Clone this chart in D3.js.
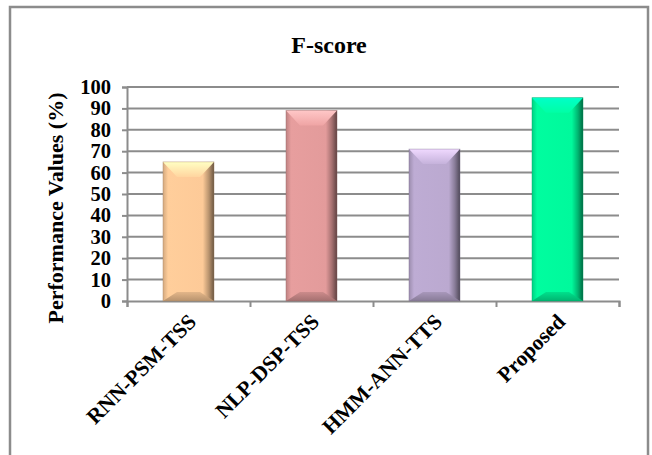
<!DOCTYPE html>
<html>
<head>
<meta charset="utf-8">
<script src="https://cdn.jsdelivr.net/npm/d3@7"></script>
<style>
  html, body { margin: 0; padding: 0; background: #ffffff; }
  svg { display: block; }
  text { font-family: "Liberation Serif", "Times New Roman", serif; font-weight: bold; fill: #000; }
</style>
</head>
<body>
<svg id="chart" width="652" height="455"></svg>
<script>
// F-score per method
const categories = ["RNN-PSM-TSS", "NLP-DSP-TSS", "HMM-ANN-TTS", "Proposed"];
const fscore = [65, 89, 71, 95];
const barColors = ["#fdca98", "#e39b9b", "#bba9d0", "#00f99c"];
const yTicks = [0, 10, 20, 30, 40, 50, 60, 70, 80, 90, 100];

const svg = d3.select("#chart");
const W = 652, H = 455;
const margin = { left: 127, right: 33, top: 87, bottom: 154 };
const grid = "#8c8c8c";

svg.append("rect").attr("width", W).attr("height", H).attr("fill", "#fff");

// outer chart frame
svg.append("rect")
  .attr("x", 10).attr("y", 7).attr("width", 638).attr("height", 470)
  .attr("fill", "none").attr("stroke", grid).attr("stroke-width", 2.5);

const x = d3.scaleBand().domain(categories)
  .range([margin.left, W - margin.right]).paddingInner(0.585).paddingOuter(0.2925);
const y = d3.scaleLinear().domain([0, 100]).range([H - margin.bottom, margin.top]);

// horizontal gridlines
svg.append("g").selectAll("line").data(yTicks.filter(d => d > 0)).join("line")
  .attr("x1", margin.left).attr("x2", W - margin.right)
  .attr("y1", d => y(d)).attr("y2", d => y(d))
  .attr("stroke", grid).attr("stroke-width", 2);

// y axis
const yAxis = svg.append("g").attr("transform", `translate(${margin.left},0)`)
  .call(d3.axisLeft(y).tickValues(yTicks).tickSize(5).tickPadding(11));
yAxis.select(".domain").attr("stroke", grid).attr("stroke-width", 2);
yAxis.selectAll(".tick line").attr("stroke", grid).attr("stroke-width", 2);
yAxis.selectAll(".tick text").style("font-size", "20.5px").attr("font-family", null).attr("fill", "#000");

// x axis with ticks at category boundaries
const bounds = d3.range(categories.length + 1);
const xb = d3.scaleLinear().domain([0, categories.length]).range([margin.left, W - margin.right]);
const xAxis = svg.append("g").attr("transform", `translate(0,${y(0)})`)
  .call(d3.axisBottom(xb).tickValues(bounds).tickSize(6).tickFormat(""));
xAxis.select(".domain").attr("stroke", grid).attr("stroke-width", 2);
xAxis.selectAll(".tick line").attr("stroke", grid).attr("stroke-width", 2);

// category labels, rotated
svg.append("g").selectAll("text").data(categories).join("text")
  .attr("transform", d => `translate(${x(d) + x.bandwidth() / 2 + 4},${y(0) + 17}) rotate(-45)`)
  .attr("text-anchor", "end")
  .attr("dominant-baseline", "central")
  .style("font-size", "21.5px")
  .text(d => d);

// bevelled bars
const defs = svg.append("defs");
const bars = svg.append("g");
categories.forEach((c, i) => {
  const base = d3.color(barColors[i]);
  const gid = "side" + i;
  const g = defs.append("linearGradient").attr("id", gid).attr("x1", 0).attr("x2", 1).attr("y1", 0).attr("y2", 0);
  g.append("stop").attr("offset", "0").attr("stop-color", base.darker(0.5));
  g.append("stop").attr("offset", "0.1").attr("stop-color", base.brighter(0.05));
  g.append("stop").attr("offset", "0.78").attr("stop-color", base);
  g.append("stop").attr("offset", "0.9").attr("stop-color", base.darker(0.9));
  g.append("stop").attr("offset", "1").attr("stop-color", base.darker(2.4));
  const tid = "top" + i;
  const t = defs.append("linearGradient").attr("id", tid).attr("x1", 0).attr("x2", 0).attr("y1", 0).attr("y2", 1);
  t.append("stop").attr("offset", "0").attr("stop-color", base.brighter(0.7));
  t.append("stop").attr("offset", "1").attr("stop-color", base.brighter(0.15));
  const bid = "bot" + i;
  const b = defs.append("linearGradient").attr("id", bid).attr("x1", 0).attr("x2", 0).attr("y1", 0).attr("y2", 1);
  b.append("stop").attr("offset", "0").attr("stop-color", base.darker(0.3));
  b.append("stop").attr("offset", "1").attr("stop-color", base.darker(0.9));

  const x0 = x(c), x1 = x(c) + x.bandwidth();
  const y0 = y(fscore[i]), y1 = y(0);
  const bw = 14, bt = 15, bb = 9;
  bars.append("rect").attr("x", x0).attr("y", y0).attr("width", x1 - x0).attr("height", y1 - y0)
    .attr("fill", `url(#${gid})`);
  bars.append("polygon")
    .attr("points", [[x0, y0], [x1, y0], [x1 - bw, y0 + bt], [x0 + bw, y0 + bt]].join(" "))
    .attr("fill", `url(#${tid})`);
  bars.append("polygon")
    .attr("points", [[x0, y1], [x1, y1], [x1 - bw, y1 - bb], [x0 + bw, y1 - bb]].join(" "))
    .attr("fill", `url(#${bid})`);
  bars.append("rect").attr("x", x0).attr("y", y0).attr("width", x1 - x0).attr("height", y1 - y0)
    .attr("fill", "none").attr("stroke", base.darker(1.2)).attr("stroke-width", 0.6).attr("stroke-opacity", 0.6);
});

// titles
svg.append("text").attr("x", 329).attr("y", 53).attr("text-anchor", "middle")
  .style("font-size", "24px").text("F-score");
svg.append("text")
  .attr("transform", `translate(63,${208}) rotate(-90)`)
  .attr("text-anchor", "middle")
  .style("font-size", "22px")
  .text("Performance Values (%)");
</script>
</body>
</html>
